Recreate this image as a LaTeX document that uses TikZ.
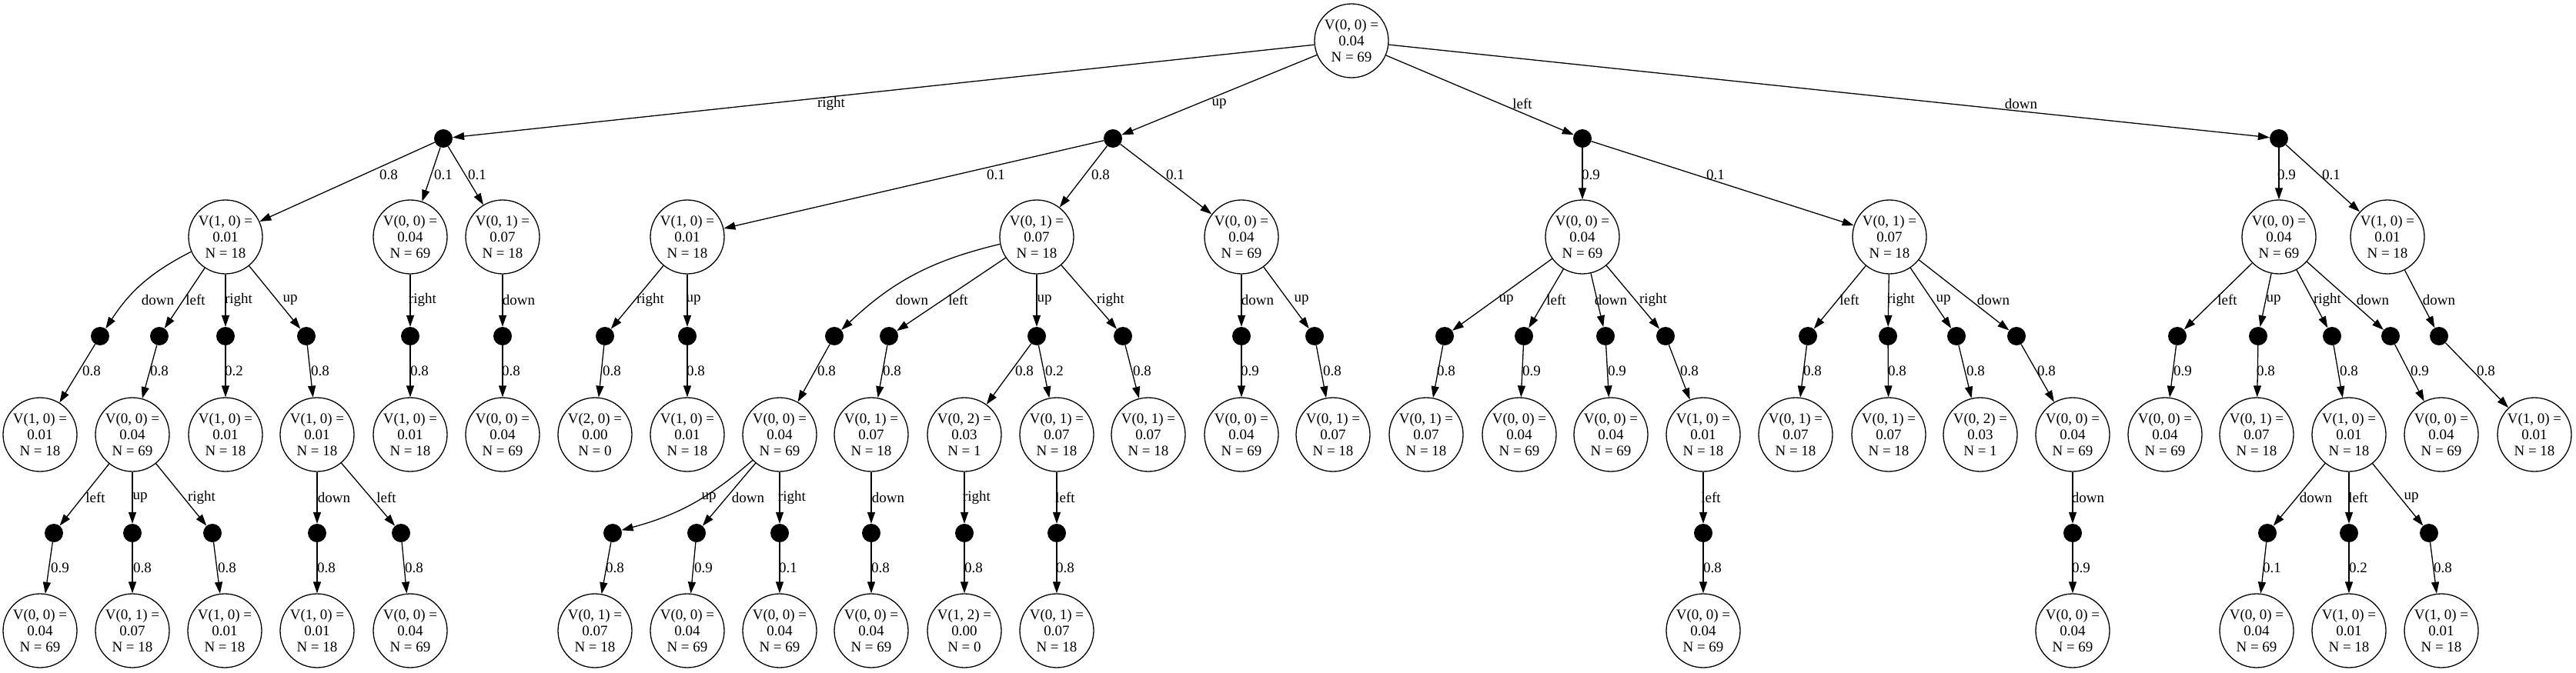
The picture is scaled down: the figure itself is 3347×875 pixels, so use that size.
\documentclass[tikz,border=0pt]{standalone}
\usepackage{fontspec}
\setmainfont{Liberation Serif}
\usetikzlibrary{arrows.meta}
\newcommand\mySV[7]{\node[vstate] (#1) at (#2,#3) {V(#4, #5) =\\#6\\N = #7};}
\newcommand\myCD[3]{\node[chance] (#1) at (#2,#3) {};}
\newcommand\myED[5]{\draw[conn] (#1) -- (#2); \node[lbl] (l#2) at (#4,#5) {#3};}
\newcommand\myEDc[6]{\draw[conn] (#1) to[#6] (#2); \node[lbl] (l#2) at (#4,#5) {#3};}
\begin{document}
\begin{tikzpicture}[x=1pt,y=-1pt,
  vstate/.style={circle,draw,line width=1.3pt,minimum size=96pt,inner sep=0pt,align=center,font=\fontsize{19}{20.8}\selectfont},
  chance/.style={circle,fill=black,minimum size=24pt,inner sep=0pt},
  lbl/.style={inner sep=0pt,font=\fontsize{19}{20.8}\selectfont},
  conn/.style={line width=1.3pt,-{Triangle[length=15pt,width=10pt]}}]
\path[fill=white] (0,0) rectangle (3347,875);
\useasboundingbox (0,0) rectangle (3347,875);
% root
\mySV{R}{1756}{53}{0}{0}{0.04}{69}
% level 1
\myCD{dR}{576}{180}
\myCD{dU}{1446}{180}
\myCD{dL}{2056}{180}
\myCD{dD}{2961}{180}
\myED{R}{dR}{right}{1080}{135}
\myED{R}{dU}{up}{1584}{135}
\myED{R}{dL}{left}{1978}{135}
\myED{R}{dD}{down}{2626}{135}
% level 2
\mySV{sR1}{293}{308}{1}{0}{0.01}{18}
\mySV{sR2}{533}{308}{0}{0}{0.04}{69}
\mySV{sR3}{653}{308}{0}{1}{0.07}{18}
\mySV{sU1}{893}{308}{1}{0}{0.01}{18}
\mySV{sU2}{1347}{308}{0}{1}{0.07}{18}
\mySV{sU3}{1613}{308}{0}{0}{0.04}{69}
\mySV{sL1}{2056}{308}{0}{0}{0.04}{69}
\mySV{sL2}{2455}{308}{0}{1}{0.07}{18}
\mySV{sD1}{2961}{308}{0}{0}{0.04}{69}
\mySV{sD2}{3102}{308}{1}{0}{0.01}{18}
\myED{dR}{sR1}{0.8}{505}{227}
\myED{dR}{sR2}{0.1}{576}{227}
\myED{dR}{sR3}{0.1}{620}{227}
\myED{dU}{sU1}{0.1}{1294}{227}
\myED{dU}{sU2}{0.8}{1430}{227}
\myED{dU}{sU3}{0.1}{1527}{227}
\myED{dL}{sL1}{0.9}{2067}{227}
\myED{dL}{sL2}{0.1}{2229}{227}
\myED{dD}{sD1}{0.9}{2971}{227}
\myED{dD}{sD2}{0.1}{3029}{227}
% level 3
\myCD{a1}{130}{437}
\myCD{a2}{207}{437}
\myCD{a3}{293}{437}
\myCD{a4}{398}{437}
\myCD{a5}{533}{437}
\myCD{a6}{653}{437}
\myCD{a7}{786}{437}
\myCD{a8}{893}{437}
\myCD{a9}{1084}{437}
\myCD{a10}{1155}{437}
\myCD{a11}{1347}{437}
\myCD{a12}{1459}{437}
\myCD{a13}{1613}{437}
\myCD{a14}{1708}{437}
\myCD{a15}{1877}{437}
\myCD{a16}{1980}{437}
\myCD{a17}{2086}{437}
\myCD{a18}{2164}{437}
\myCD{a19}{2349}{437}
\myCD{a20}{2453}{437}
\myCD{a21}{2542}{437}
\myCD{a22}{2620}{437}
\myCD{a23}{2829}{437}
\myCD{a24}{2934}{437}
\myCD{a25}{3030}{437}
\myCD{a26}{3106}{437}
\myCD{a27}{3169}{437}
\myEDc{sR1}{a1}{down}{205}{390}{bend right=15}
\myED{sR1}{a2}{left}{254}{390}
\myED{sR1}{a3}{right}{310}{390}
\myED{sR1}{a4}{up}{377}{390}
\myED{sR2}{a5}{right}{549}{390}
\myED{sR3}{a6}{down}{674}{390}
\myED{sU1}{a7}{right}{845}{390}
\myED{sU1}{a8}{up}{901}{390}
\myEDc{sU2}{a9}{down}{1185}{390}{bend right=15}
\myED{sU2}{a10}{left}{1245}{390}
\myED{sU2}{a11}{up}{1357}{390}
\myED{sU2}{a12}{right}{1443}{390}
\myED{sU3}{a13}{down}{1634}{390}
\myED{sU3}{a14}{up}{1691}{390}
\myED{sL1}{a15}{up}{1957}{390}
\myED{sL1}{a16}{left}{2022}{390}
\myED{sL1}{a17}{down}{2093}{390}
\myED{sL1}{a18}{right}{2148}{390}
\myED{sL2}{a19}{left}{2403}{390}
\myED{sL2}{a20}{right}{2470}{390}
\myED{sL2}{a21}{up}{2525}{390}
\myED{sL2}{a22}{down}{2590}{390}
\myED{sD1}{a23}{left}{2894}{390}
\myED{sD1}{a24}{up}{2954}{390}
\myED{sD1}{a25}{right}{3024}{390}
\myED{sD1}{a26}{down}{3083}{390}
\myED{sD2}{a27}{down}{3169}{390}
% level 4
\mySV{b1}{52}{565}{1}{0}{0.01}{18}
\mySV{b2}{172}{565}{0}{0}{0.04}{69}
\mySV{b3}{293}{565}{1}{0}{0.01}{18}
\mySV{b4}{412}{565}{1}{0}{0.01}{18}
\mySV{b5}{533}{565}{1}{0}{0.01}{18}
\mySV{b6}{653}{565}{0}{0}{0.04}{69}
\mySV{b7}{773}{565}{2}{0}{0.00}{0}
\mySV{b8}{893}{565}{1}{0}{0.01}{18}
\mySV{b9}{1013}{565}{0}{0}{0.04}{69}
\mySV{b10}{1132}{565}{0}{1}{0.07}{18}
\mySV{b11}{1253}{565}{0}{2}{0.03}{1}
\mySV{b12}{1373}{565}{0}{1}{0.07}{18}
\mySV{b13}{1492}{565}{0}{1}{0.07}{18}
\mySV{b14}{1613}{565}{0}{0}{0.04}{69}
\mySV{b15}{1732}{565}{0}{1}{0.07}{18}
\mySV{b16}{1853}{565}{0}{1}{0.07}{18}
\mySV{b17}{1974}{565}{0}{0}{0.04}{69}
\mySV{b18}{2093}{565}{0}{0}{0.04}{69}
\mySV{b19}{2213}{565}{1}{0}{0.01}{18}
\mySV{b20}{2333}{565}{0}{1}{0.07}{18}
\mySV{b21}{2454}{565}{0}{1}{0.07}{18}
\mySV{b22}{2573}{565}{0}{2}{0.03}{1}
\mySV{b23}{2693}{565}{0}{0}{0.04}{69}
\mySV{b24}{2813}{565}{0}{0}{0.04}{69}
\mySV{b25}{2932}{565}{0}{1}{0.07}{18}
\mySV{b26}{3052}{565}{1}{0}{0.01}{18}
\mySV{b27}{3172}{565}{0}{0}{0.04}{69}
\mySV{b28}{3293}{565}{1}{0}{0.01}{18}
\myED{a1}{b1}{0.8}{119}{482}
\myED{a2}{b2}{0.8}{207}{482}
\myED{a3}{b3}{0.2}{304}{482}
\myED{a4}{b4}{0.8}{416}{482}
\myED{a5}{b5}{0.8}{545}{482}
\myED{a6}{b6}{0.8}{664}{482}
\myED{a7}{b7}{0.8}{795}{482}
\myED{a8}{b8}{0.8}{904}{482}
\myED{a9}{b9}{0.8}{1074}{482}
\myED{a10}{b10}{0.8}{1159}{482}
\myED{a11}{b11}{0.8}{1331}{482}
\myED{a11}{b12}{0.2}{1370}{482}
\myED{a12}{b13}{0.8}{1484}{482}
\myED{a13}{b14}{0.9}{1624}{482}
\myED{a14}{b15}{0.8}{1731}{482}
\myED{a15}{b16}{0.8}{1879}{482}
\myED{a16}{b17}{0.9}{1990}{482}
\myED{a17}{b18}{0.9}{2101}{482}
\myED{a18}{b19}{0.8}{2195}{482}
\myED{a19}{b20}{0.8}{2355}{482}
\myED{a20}{b21}{0.8}{2465}{482}
\myED{a21}{b22}{0.8}{2567}{482}
\myED{a22}{b23}{0.8}{2659}{482}
\myED{a23}{b24}{0.9}{2836}{482}
\myED{a24}{b25}{0.8}{2944}{482}
\myED{a25}{b26}{0.8}{3052}{482}
\myED{a26}{b27}{0.9}{3144}{482}
\myED{a27}{b28}{0.8}{3230}{482}
% level 5
\myCD{c1}{70}{693}
\myCD{c2}{172}{693}
\myCD{c3}{276}{693}
\myCD{c4}{412}{693}
\myCD{c5}{521}{693}
\myCD{c6}{796}{693}
\myCD{c7}{905}{693}
\myCD{c8}{1013}{693}
\myCD{c9}{1132}{693}
\myCD{c10}{1253}{693}
\myCD{c11}{1373}{693}
\myCD{c12}{2213}{693}
\myCD{c13}{2693}{693}
\myCD{c14}{2946}{693}
\myCD{c15}{3052}{693}
\myCD{c16}{3156}{693}
\myED{b2}{c1}{left}{124}{647}
\myED{b2}{c2}{up}{182}{647}
\myED{b2}{c3}{right}{262}{647}
\myED{b4}{c4}{down}{434}{647}
\myED{b4}{c5}{left}{502}{647}
\myEDc{b9}{c6}{up}{921}{647}{bend left=13}
\myED{b9}{c7}{down}{972}{647}
\myED{b9}{c8}{right}{1029}{647}
\myED{b10}{c9}{down}{1154}{647}
\myED{b11}{c10}{right}{1269}{647}
\myED{b12}{c11}{left}{1384}{647}
\myED{b19}{c12}{left}{2223}{647}
\myED{b23}{c13}{down}{2713}{647}
\myED{b26}{c14}{down}{3009}{647}
\myED{b26}{c15}{left}{3064}{647}
\myED{b26}{c16}{up}{3133}{647}
% level 6
\mySV{e1}{52}{820}{0}{0}{0.04}{69}
\mySV{e2}{172}{820}{0}{1}{0.07}{18}
\mySV{e3}{292}{820}{1}{0}{0.01}{18}
\mySV{e4}{412}{820}{1}{0}{0.01}{18}
\mySV{e5}{533}{820}{0}{0}{0.04}{69}
\mySV{e6}{773}{820}{0}{1}{0.07}{18}
\mySV{e7}{893}{820}{0}{0}{0.04}{69}
\mySV{e8}{1013}{820}{0}{0}{0.04}{69}
\mySV{e9}{1132}{820}{0}{0}{0.04}{69}
\mySV{e10}{1253}{820}{1}{2}{0.00}{0}
\mySV{e11}{1373}{820}{0}{1}{0.07}{18}
\mySV{e12}{2213}{820}{0}{0}{0.04}{69}
\mySV{e13}{2693}{820}{0}{0}{0.04}{69}
\mySV{e14}{2932}{820}{0}{0}{0.04}{69}
\mySV{e15}{3052}{820}{1}{0}{0.01}{18}
\mySV{e16}{3172}{820}{1}{0}{0.01}{18}
\myED{c1}{e1}{0.9}{78}{738}
\myED{c2}{e2}{0.8}{185}{738}
\myED{c3}{e3}{0.8}{295}{738}
\myED{c4}{e4}{0.8}{424}{738}
\myED{c5}{e5}{0.8}{538}{738}
\myED{c6}{e6}{0.8}{799}{738}
\myED{c7}{e7}{0.9}{914}{738}
\myED{c8}{e8}{0.1}{1024}{738}
\myED{c9}{e9}{0.8}{1144}{738}
\myED{c10}{e10}{0.8}{1265}{738}
\myED{c11}{e11}{0.8}{1384}{738}
\myED{c12}{e12}{0.8}{2225}{738}
\myED{c13}{e13}{0.9}{2704}{738}
\myED{c14}{e14}{0.1}{2952}{738}
\myED{c15}{e15}{0.2}{3064}{738}
\myED{c16}{e16}{0.8}{3174}{738}
\end{tikzpicture}
\end{document}
